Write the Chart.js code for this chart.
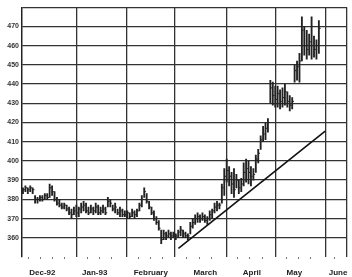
<!DOCTYPE html>
<html>
<head>
<meta charset="utf-8">
<script src="https://cdn.jsdelivr.net/npm/chart.js@4.4.1/dist/chart.umd.min.js"></script>
<style>
  body { margin: 0; background: #fff; }
  canvas { display: block; }
</style>
</head>
<body>
<canvas id="chart" width="352" height="277"></canvas>
<script>
// month labels and where they sit on the trading-day axis
const monthLabels = ['Dec-92', 'Jan-93', 'February', 'March', 'April', 'May', 'June'];
const labelPos = [8.4, 30, 53.1, 75.6, 94.8, 112.3, 130.3];
const monthEdges = [0, 22.5, 43.3, 62.9, 84.2, 104.6, 125, 134];
// small weekly marks along the bottom
const weekMarks = [2.5, 7.5, 12.5, 17.5, 27, 32, 37, 48, 53, 58, 68, 73, 78, 89, 94, 99, 109, 114, 119, 129];

// y tick values
const yTicks = [350, 360, 370, 380, 390, 400, 410, 420, 430, 440, 450, 460, 470, 480];

// daily bars, one per trading day (Dec-92 .. May-93)
const highs = [
  386, 387, 386, 387, 386, 382, 381, 382, 382, 383, 383, 388, 387, 384, 381, 380, 378, 378, 377, 376, 375, 376,
  377, 376, 378, 379, 378, 376, 377, 376, 378, 377, 376, 377, 376, 381, 380, 377, 378, 375, 376, 375,
  374, 374, 373, 375, 374, 375, 378, 382, 386, 383, 379, 376, 374, 371, 369, 364, 364, 363, 364, 363,
  363, 362, 364, 366, 364, 363, 362, 368, 370, 372, 373, 372, 373, 372, 371, 374, 375, 378, 379, 378, 388, 396,
  401, 397, 394, 396, 393, 390, 391, 399, 401, 400, 397, 396, 403, 406, 413, 418, 420, 422, 442, 441, 439,
  439, 437, 438, 440, 436, 434, 433, 450, 452, 456, 475, 470, 468, 466, 475, 465, 463, 473
];
const lows = [
  383, 384, 383, 384, 383, 378, 378, 379, 379, 380, 380, 381, 382, 379, 377, 376, 375, 375, 374, 372, 370, 372,
  371, 371, 373, 374, 373, 372, 373, 372, 373, 372, 372, 373, 372, 376, 376, 374, 373, 372, 371, 371,
  371, 370, 370, 371, 370, 371, 374, 376, 381, 378, 375, 372, 369, 367, 364, 357, 359, 359, 360, 359,
  360, 359, 360, 361, 360, 360, 359, 362, 365, 367, 368, 368, 369, 368, 367, 369, 370, 373, 374, 375, 378, 382,
  389, 387, 383, 381, 386, 383, 384, 387, 389, 388, 387, 390, 394, 399, 406, 410, 411, 415, 430, 429, 428,
  428, 427, 428, 429, 428, 426, 427, 441, 442, 441, 452, 455, 453, 455, 453, 454, 453, 456
];
const closes = [
  385, 386, 385, 386, 385, 380, 380, 381, 380, 382, 381, 386, 384, 380, 378, 377, 376, 377, 375, 373, 372, 374,
  373, 375, 376, 377, 374, 373, 375, 374, 376, 373, 374, 375, 373, 379, 378, 375, 376, 373, 374, 372,
  372, 373, 371, 373, 372, 374, 377, 380, 384, 379, 376, 373, 370, 368, 365, 359, 362, 361, 362, 361,
  362, 361, 363, 364, 362, 361, 361, 366, 368, 370, 371, 370, 371, 369, 370, 372, 374, 376, 377, 377, 386, 392,
  395, 392, 388, 385, 390, 386, 388, 394, 396, 394, 392, 393, 401, 404, 411, 414, 417, 420, 438, 434, 432,
  435, 431, 433, 436, 431, 429, 431, 447, 449, 452, 468, 460, 458, 462, 470, 458, 460, 469
];

// trend line end points
const trendX = [64.5, 125];
const trendY = [354.5, 415.5];

const ink = '#222';

const barData = highs.map((h, i) => ({ x: i + 0.4, y: [lows[i], h] }));
const closeData = closes.map((c, i) => ({ x: i + 0.4, y: c }));
const trendData = trendX.map((x, i) => ({ x: x, y: trendY[i] }));

new Chart(document.getElementById('chart').getContext('2d'), {
  type: 'bar',
  data: {
    datasets: [
      {
        type: 'bar',
        data: barData,
        backgroundColor: ink,
        barThickness: 1.2,
        xAxisID: 'x',
      },
      {
        type: 'scatter',
        data: closeData,
        pointStyle: 'dash',
        pointRadius: 1.8,
        borderColor: ink,
        borderWidth: 1,
        xAxisID: 'x',
      },
      {
        type: 'line',
        data: trendData,
        borderColor: '#111',
        borderWidth: 1.6,
        pointRadius: 0,
        xAxisID: 'x',
      },
    ],
  },
  options: {
    responsive: false,
    animation: false,
    devicePixelRatio: 1,
    layout: { padding: { top: 7, right: 2, left: 0, bottom: 0 } },
    plugins: { legend: { display: false }, tooltip: { enabled: false } },
    scales: {
      x: {
        type: 'linear',
        position: 'bottom',
        min: 0,
        max: 134,
        offset: false,
        afterBuildTicks: (scale) => { scale.ticks = monthEdges.map((v) => ({ value: v })); },
        afterFit: (scale) => { scale.height = 0; },
        ticks: { display: false },
        grid: { color: '#333', lineWidth: 1.3, drawTicks: false, offset: false },
        border: { display: false },
      },
      // weekly tick marks only
      xw: {
        type: 'linear',
        position: 'bottom',
        min: 0,
        max: 134,
        offset: false,
        afterBuildTicks: (scale) => { scale.ticks = weekMarks.map((v) => ({ value: v })); },
        afterFit: (scale) => { scale.height = 0; },
        ticks: { display: false },
        grid: { color: '#777', lineWidth: 1, drawOnChartArea: false, tickLength: 2, offset: false },
        border: { display: false },
      },
      x2: {
        type: 'linear',
        position: 'bottom',
        min: 0,
        max: 134,
        offset: false,
        afterBuildTicks: (scale) => { scale.ticks = labelPos.map((v) => ({ value: v })); },
        afterFit: (scale) => { scale.height = 20; },
        ticks: {
          autoSkip: false,
          maxRotation: 0,
          padding: 3,
          color: ink,
          font: { family: 'Liberation Sans', size: 8, weight: 'bold' },
          callback: (v, i) => monthLabels[i],
        },
        grid: { display: false, offset: false },
        border: { display: false },
      },
      y: {
        type: 'linear',
        min: 350,
        max: 480,
        afterBuildTicks: (scale) => { scale.ticks = yTicks.map((v) => ({ value: v })); },
        afterFit: (scale) => { scale.width = 22; },
        ticks: {
          padding: 3,
          color: '#333',
          font: { family: 'Liberation Sans', size: 7, weight: 'bold' },
          callback: (v) => (v === 350 || v === 480 ? '' : v),
        },
        grid: {
          drawTicks: false,
          lineWidth: 1.3,
          color: (ctx) => (ctx.tick && ctx.tick.value === 350 ? 'rgba(0,0,0,0)' : '#333'),
        },
        border: { display: true, color: '#222', width: 1.3 },
      },
    },
  },
});
</script>
</body>
</html>
